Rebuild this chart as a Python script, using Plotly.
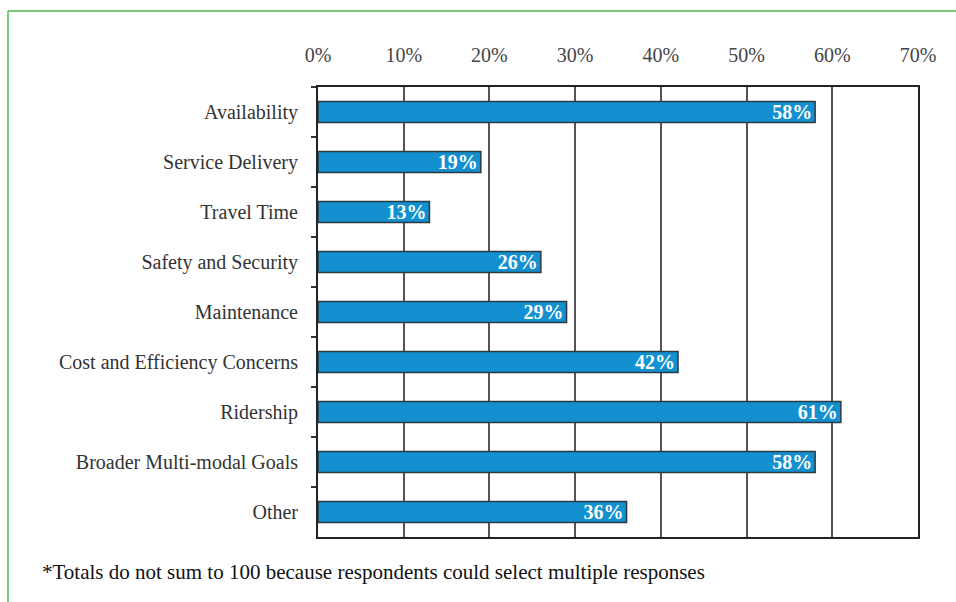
import plotly.graph_objects as go

categories = ["Availability", "Service Delivery", "Travel Time", "Safety and Security",
              "Maintenance", "Cost and Efficiency Concerns", "Ridership",
              "Broader Multi-modal Goals", "Other"]
values = [58, 19, 13, 26, 29, 42, 61, 58, 36]
x_ticks = [0, 10, 20, 30, 40, 50, 60, 70]
footnote = "*Totals do not sum to 100 because respondents could select multiple responses"

SERIF = "Times New Roman, Liberation Serif, serif"

L, R, T, B = 318, 38, 87, 65
W, H = 956, 602
pw, ph = W - L - R, H - T - B

def px(x):
    return (x - L) / pw

def py(y):
    return (H - B - y) / ph

fig = go.Figure(go.Bar(
    x=values, y=categories, orientation="h",
    marker=dict(color="#1290d0", line=dict(color="#2e3a40", width=1.5)),
    width=0.42,
    texttemplate="%{x}%", textposition="inside", insidetextanchor="end",
    constraintext="none",
    textfont=dict(family=SERIF, size=20, color="white", weight="bold"),
    cliponaxis=False,
))

fig.update_layout(
    width=W, height=H,
    margin=dict(l=L, r=R, t=T, b=B),
    paper_bgcolor="white", plot_bgcolor="white",
    showlegend=False,
    font=dict(family=SERIF, color="#333"),
    xaxis=dict(
        side="top", range=[0, 70], tickvals=x_ticks,
        ticktext=[f"{v}%" for v in x_ticks],
        tickfont=dict(family=SERIF, size=20, color="#444"),
        showgrid=True, gridcolor="#555", gridwidth=1.5,
        showline=True, linecolor="#222", linewidth=2, mirror=True,
        ticks="", zeroline=False, ticklabelstandoff=15,
    ),
    yaxis=dict(
        categoryorder="array", categoryarray=categories, autorange="reversed",
        tickson="boundaries", ticks="outside", ticklen=5, tickcolor="#333", tickwidth=1.5,
        tickfont=dict(family=SERIF, size=20, color="#333"),
        showline=True, linecolor="#222", linewidth=2, mirror=True,
        showgrid=False, ticklabelstandoff=14,
    ),
    shapes=[
        dict(type="line", xref="paper", yref="paper",
             x0=px(8), x1=px(8), y0=py(11), y1=py(620),
             line=dict(color="#4db848", width=1.5)),
        dict(type="line", xref="paper", yref="paper",
             x0=px(8), x1=px(970), y0=py(11), y1=py(11),
             line=dict(color="#4db848", width=1.5)),
    ],
    annotations=[
        dict(text=footnote, xref="paper", yref="paper", x=px(40), y=py(572),
             xanchor="left", yanchor="middle", showarrow=False,
             font=dict(size=21, color="#111", family=SERIF)),
    ],
)

fig.write_html("out.html")
